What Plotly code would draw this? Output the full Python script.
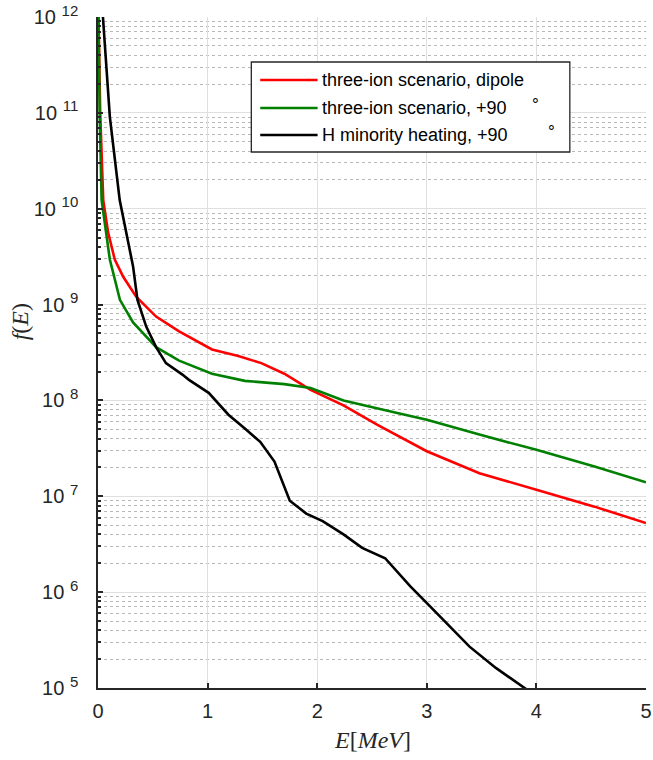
import plotly.graph_objects as go

# ---- data ----
E_red = [0.005, 0.02, 0.048, 0.093, 0.153, 0.23, 0.35, 0.53, 0.74, 1.04, 1.28, 1.49, 1.70, 1.94, 2.24, 2.55, 3.0, 3.48, 4.0, 4.53, 5.0]
f_red = [1e12, 1e11, 1.23e10, 5.6e9, 2.95e9, 1.95e9, 1.2e9, 7.5e8, 5.25e8, 3.4e8, 2.9e8, 2.45e8, 1.9e8, 1.29e8, 8.9e7, 5.56e7, 2.95e7, 1.74e7, 1.17e7, 7.8e6, 5.25e6]

E_green = [0.004, 0.015, 0.033, 0.078, 0.108, 0.2, 0.32, 0.53, 0.74, 1.04, 1.34, 1.70, 1.94, 2.24, 2.42, 2.73, 3.0, 3.48, 4.0, 4.53, 5.0]
f_green = [1e12, 1e11, 1.23e10, 5.6e9, 2.95e9, 1.12e9, 6.5e8, 3.6e8, 2.6e8, 1.9e8, 1.6e8, 1.48e8, 1.35e8, 1.0e8, 8.9e7, 7.4e7, 6.3e7, 4.4e7, 3.05e7, 2.05e7, 1.4e7]

E_black = [0.045, 0.108, 0.198, 0.26, 0.32, 0.36, 0.44, 0.53, 0.62, 0.77, 0.83, 1.01, 1.19, 1.34, 1.48, 1.61, 1.75, 1.90, 2.05, 2.24, 2.41, 2.62, 2.85, 3.03, 3.39, 3.63, 3.87, 3.92]
f_black = [1e12, 9.1e10, 1.23e10, 5.5e9, 2.5e9, 1.12e9, 5.9e8, 3.6e8, 2.45e8, 1.86e8, 1.64e8, 1.2e8, 7.1e7, 5.1e7, 3.7e7, 2.3e7, 9.0e6, 6.6e6, 5.5e6, 4.0e6, 2.9e6, 2.26e6, 1.15e6, 7.1e5, 2.7e5, 1.62e5, 1.05e5, 9.5e4]

names = ["three-ion scenario, dipole",
         "three-ion scenario, +90",
         "H minority heating, +90"]
colors = ["#ff0000", "#008000", "#000000"]

x_ticks = [0, 1, 2, 3, 4, 5]
y_exponents = [5, 6, 7, 8, 9, 10, 11, 12]
y_tick_vals = [1e5, 1e6, 1e7, 1e8, 1e9, 1e10, 1e11, 1e12]
y_tick_text = ["10\u00a0<sup><span style='font-size:15px'>%d</span></sup>" % k for k in y_exponents]

fig = go.Figure()
for E, f, nm, c in [(E_red, f_red, names[0], colors[0]),
                    (E_green, f_green, names[1], colors[1]),
                    (E_black, f_black, names[2], colors[2])]:
    fig.add_trace(go.Scatter(x=E, y=f, mode="lines", name=nm,
                             line=dict(color=c, width=2.6), showlegend=False))

# ---- legend box drawn in paper coordinates (plot area: 98..652 px, 17..688 px) ----
def px(xp):
    return (xp - 98) / 554.0

def py(yp):
    return (688 - yp) / 671.0

shapes = [dict(type="rect", xref="paper", yref="paper",
               x0=px(253), x1=px(575), y0=py(152), y1=py(62),
               line=dict(color="#262626", width=1.3), fillcolor="white", layer="above")]
annotations = []
row_y = [80, 108, 135]
deg_x = [None, 540, 556]
for i in range(3):
    shapes.append(dict(type="line", xref="paper", yref="paper",
                       x0=px(262), x1=px(320), y0=py(row_y[i]), y1=py(row_y[i]),
                       line=dict(color=colors[i], width=2.6), layer="above"))
    annotations.append(dict(text=names[i], xref="paper", yref="paper",
                            x=px(322), y=py(row_y[i]), xanchor="left", yanchor="middle",
                            showarrow=False,
                            font=dict(family="Liberation Sans, Arial, sans-serif", size=18, color="black")))
    if deg_x[i] is not None:
        annotations.append(dict(text="\u00b0", xref="paper", yref="paper",
                                x=px(deg_x[i]), y=py(row_y[i]), xanchor="center", yanchor="middle",
                                yshift=3, showarrow=False,
                                font=dict(family="Liberation Sans, Arial, sans-serif", size=17, color="black")))

axis_font = dict(family="Liberation Sans, Arial, sans-serif", size=20, color="#262626")

annotations += [
    dict(text="<i>E</i>[<i>MeV</i>]", xref="paper", yref="paper", x=0.5, y=0,
         xanchor="center", yanchor="middle", yshift=-52, showarrow=False,
         font=dict(family="Liberation Serif, Times New Roman, serif", size=24, color="#262626")),
    dict(text="<i>f</i>(<i>E</i>)", xref="paper", yref="paper", x=0, y=0.545,
         xanchor="center", yanchor="middle", xshift=-78, textangle=-90, showarrow=False,
         font=dict(family="Liberation Serif, Times New Roman, serif", size=24, color="#262626")),
]

fig.update_layout(
    width=653, height=760,
    margin=dict(l=98, r=1, t=17, b=72),
    paper_bgcolor="white", plot_bgcolor="white",
    showlegend=False,
    xaxis=dict(range=[0, 5], tickvals=x_ticks, ticktext=[str(v) for v in x_ticks],
               showgrid=True, gridcolor="#dfdfdf", gridwidth=1,
               showline=True, linecolor="#262626", linewidth=1.5,
               ticks="inside", ticklen=5, tickwidth=1.5, tickcolor="#262626",
               tickfont=axis_font, zeroline=False, ticklabelstandoff=4,
               ticklabeloverflow="allow"),
    yaxis=dict(type="log", range=[5, 12], tickvals=y_tick_vals, ticktext=y_tick_text,
               showgrid=True, gridcolor="#dfdfdf", gridwidth=1,
               showline=True, linecolor="#262626", linewidth=1.5,
               ticks="inside", ticklen=5, tickwidth=1.5, tickcolor="#262626",
               tickfont=axis_font, zeroline=False, ticklabelstandoff=14,
               ticklabeloverflow="allow",
               minor=dict(showgrid=True, gridcolor="#b8b8b8", griddash="dot", gridwidth=1,
                          ticks="inside", ticklen=3, tickcolor="#262626", dtick="D1")),
    shapes=shapes,
    annotations=annotations,
)

fig.write_html("out.html", config={"displayModeBar": False},
               post_script="document.body.style.margin='0';document.body.style.overflow='hidden';")
